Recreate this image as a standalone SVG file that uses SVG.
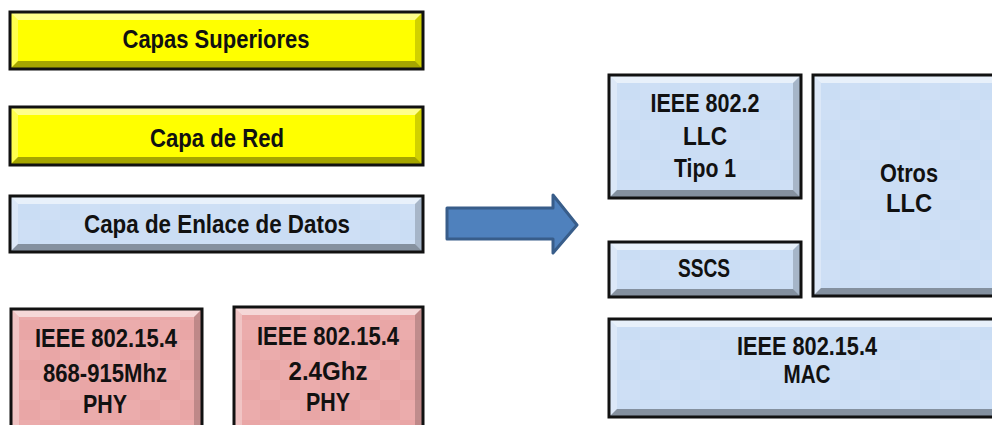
<svg xmlns="http://www.w3.org/2000/svg" width="992" height="425" viewBox="0 0 992 425">
<style>
.frame{stroke:#111;stroke-width:3;}
.y{fill:#FFFF00;}
.b{fill:#CADDF4;}
.p{fill:#E9A6A6;}
.bt{fill:#fff;fill-opacity:0.55;}
.bl{fill:#fff;fill-opacity:0.3;}
.br{fill:#000;fill-opacity:0.18;}
.bb{fill:#000;fill-opacity:0.35;}
.none{fill:none;}
text{font-family:"Liberation Sans",Arial,sans-serif;font-weight:bold;font-size:25px;fill:#111;text-anchor:middle;}
.arrow{fill:#4F81BD;stroke:#385D8A;stroke-width:3;stroke-linejoin:round;}
</style>
<defs>
<pattern id="tiles" width="40" height="40" patternUnits="userSpaceOnUse">
<rect x="0" y="0" width="20" height="20" fill="#fff" fill-opacity="0.07"/>
<rect x="20" y="20" width="20" height="20" fill="#fff" fill-opacity="0.07"/>
</pattern>
</defs>
<rect width="992" height="425" fill="#fff"/>

<g id="capas-superiores">
<rect class="y" x="10" y="12" width="413" height="57"/>
<polygon class="bt" points="10,12 423,12 415,20 18,20"/>
<polygon class="bl" points="10,12 18,20 18,61 10,69"/>
<polygon class="br" points="423,12 423,69 415,61 415,20"/>
<polygon class="bb" points="10,69 18,61 415,61 423,69"/>
<rect class="frame none" x="10" y="12" width="413" height="57"/>
<text x="216" y="48" textLength="187" lengthAdjust="spacingAndGlyphs">Capas Superiores</text>
</g>

<g id="capa-de-red">
<rect class="y" x="10" y="107" width="413" height="58"/>
<polygon class="bt" points="10,107 423,107 415,115 18,115"/>
<polygon class="bl" points="10,107 18,115 18,157 10,165"/>
<polygon class="br" points="423,107 423,165 415,157 415,115"/>
<polygon class="bb" points="10,165 18,157 415,157 423,165"/>
<rect class="frame none" x="10" y="107" width="413" height="58"/>
<text x="217" y="147" textLength="134" lengthAdjust="spacingAndGlyphs">Capa de Red</text>
</g>

<g id="capa-enlace">
<rect class="b" x="10" y="196" width="413" height="56"/>
<rect fill="url(#tiles)" x="10" y="196" width="413" height="56"/>
<polygon class="bt" points="10,196 423,196 415,204 18,204"/>
<polygon class="bl" points="10,196 18,204 18,244 10,252"/>
<polygon class="br" points="423,196 423,252 415,244 415,204"/>
<polygon class="bb" points="10,252 18,244 415,244 423,252"/>
<rect class="frame none" x="10" y="196" width="413" height="56"/>
<text x="217" y="233" textLength="266" lengthAdjust="spacingAndGlyphs">Capa de Enlace de Datos</text>
</g>

<g id="phy-868">
<rect class="p" x="11" y="309" width="191" height="140"/>
<rect fill="url(#tiles)" x="11" y="309" width="191" height="140"/>
<polygon class="bt" points="11,309 202,309 194,317 19,317"/>
<polygon class="bl" points="11,309 19,317 19,440 11,440"/>
<polygon class="br" points="202,309 202,440 194,440 194,317"/>
<rect class="frame none" x="11" y="309" width="191" height="140"/>
<text x="106" y="347" textLength="142" lengthAdjust="spacingAndGlyphs">IEEE 802.15.4</text>
<text x="105" y="382" textLength="124" lengthAdjust="spacingAndGlyphs">868-915Mhz</text>
<text x="105" y="413" textLength="44" lengthAdjust="spacingAndGlyphs">PHY</text>
</g>

<g id="phy-24">
<rect class="p" x="234" y="307" width="189" height="140"/>
<rect fill="url(#tiles)" x="234" y="307" width="189" height="140"/>
<polygon class="bt" points="234,307 423,307 415,315 242,315"/>
<polygon class="bl" points="234,307 242,315 242,440 234,440"/>
<polygon class="br" points="423,307 423,440 415,440 415,315"/>
<rect class="frame none" x="234" y="307" width="189" height="140"/>
<text x="328" y="345" textLength="142" lengthAdjust="spacingAndGlyphs">IEEE 802.15.4</text>
<text x="328" y="380" textLength="79" lengthAdjust="spacingAndGlyphs">2.4Ghz</text>
<text x="328" y="411" textLength="44" lengthAdjust="spacingAndGlyphs">PHY</text>
</g>

<g id="connectors">
<path class="arrow" d="M447,208 L553,208 L553,195 L577,225 L553,253 L553,239 L447,239 Z"/>
</g>

<g id="ieee-8022">
<rect class="b" x="609" y="75" width="192" height="123"/>
<rect fill="url(#tiles)" x="609" y="75" width="192" height="123"/>
<polygon class="bt" points="609,75 801,75 793,83 617,83"/>
<polygon class="bl" points="609,75 617,83 617,190 609,198"/>
<polygon class="br" points="801,75 801,198 793,190 793,83"/>
<polygon class="bb" points="609,198 617,190 793,190 801,198"/>
<rect class="frame none" x="609" y="75" width="192" height="123"/>
<text x="705" y="112" textLength="109" lengthAdjust="spacingAndGlyphs">IEEE 802.2</text>
<text x="705" y="145" textLength="44" lengthAdjust="spacingAndGlyphs">LLC</text>
<text x="705" y="177" textLength="62" lengthAdjust="spacingAndGlyphs">Tipo 1</text>
</g>

<g id="sscs">
<rect class="b" x="609" y="242" width="192" height="55"/>
<rect fill="url(#tiles)" x="609" y="242" width="192" height="55"/>
<polygon class="bt" points="609,242 801,242 793,250 617,250"/>
<polygon class="bl" points="609,242 617,250 617,289 609,297"/>
<polygon class="br" points="801,242 801,297 793,289 793,250"/>
<polygon class="bb" points="609,297 617,289 793,289 801,297"/>
<rect class="frame none" x="609" y="242" width="192" height="55"/>
<text x="704" y="277" textLength="52" lengthAdjust="spacingAndGlyphs">SSCS</text>
</g>

<g id="otros-llc">
<rect class="b" x="813" y="75" width="190" height="221"/>
<rect fill="url(#tiles)" x="813" y="75" width="190" height="221"/>
<polygon class="bt" points="813,75 1000,75 1000,83 821,83"/>
<polygon class="bl" points="813,75 821,83 821,288 813,296"/>
<polygon class="bb" points="813,296 821,288 1000,288 1000,296"/>
<rect class="frame none" x="813" y="75" width="190" height="221"/>
<text x="909" y="182" textLength="58" lengthAdjust="spacingAndGlyphs">Otros</text>
<text x="909" y="212" textLength="46" lengthAdjust="spacingAndGlyphs">LLC</text>
</g>

<g id="mac">
<rect class="b" x="609" y="319" width="395" height="98"/>
<rect fill="url(#tiles)" x="609" y="319" width="395" height="98"/>
<polygon class="bt" points="609,319 1000,319 1000,327 617,327"/>
<polygon class="bl" points="609,319 617,327 617,409 609,417"/>
<polygon class="bb" points="609,417 617,409 1000,409 1000,417"/>
<rect class="frame none" x="609" y="319" width="395" height="98"/>
<text x="807" y="355" textLength="140" lengthAdjust="spacingAndGlyphs">IEEE 802.15.4</text>
<text x="807" y="383" textLength="47" lengthAdjust="spacingAndGlyphs">MAC</text>
</g>
</svg>
